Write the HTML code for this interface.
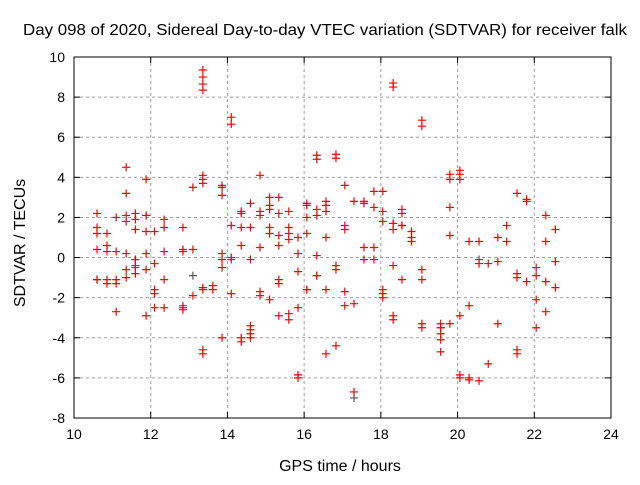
<!DOCTYPE html>
<html><head><meta charset="utf-8"><style>
body{margin:0;background:#fff;font-family:"Liberation Sans",sans-serif}
svg text{font-family:"Liberation Sans",sans-serif;font-size:14px;fill:#000}
svg text.ttl{font-size:16px}
</style></head><body>
<svg id="chart" width="640" height="480">
<text class="ttl" x="325" y="35" text-anchor="middle" textLength="604" lengthAdjust="spacingAndGlyphs">Day 098 of 2020, Sidereal Day-to-day VTEC variation (SDTVAR) for receiver falk</text>
<text class="ttl" x="340" y="471" text-anchor="middle">GPS time / hours</text>
<text class="ttl" transform="translate(25,243) rotate(-90)" text-anchor="middle">SDTVAR / TECUs</text>
<g id="grid"></g><g id="ticks"></g><g id="marks"></g>
<rect x="74" y="57" width="537" height="361" fill="none" stroke="#000" stroke-width="1"/>
</svg>
<script>
const xTicks=[10,12,14,16,18,20,22,24];
const yTicks=[-8,-6,-4,-2,0,2,4,6,8,10];
const redHours=[10.6,10.6,10.6,10.6,10.6,10.86,10.86,10.86,10.86,10.86,11.1,11.1,11.1,11.1,11.1,11.36,11.36,11.36,11.36,11.36,11.36,11.36,11.6,11.6,11.6,11.6,11.6,11.6,11.88,11.88,11.88,11.88,11.88,11.88,12.1,12.1,12.1,12.1,12.1,12.35,12.35,12.35,12.35,12.35,12.84,12.84,12.84,12.84,12.84,13.1,13.1,13.1,13.36,13.36,13.36,13.36,13.36,13.36,13.36,13.36,13.36,13.36,13.36,13.62,13.62,13.86,13.86,13.86,13.86,13.86,13.86,14.1,14.1,14.1,14.1,14.1,14.36,14.36,14.36,14.36,14.36,14.36,14.6,14.6,14.6,14.6,14.6,14.6,14.6,14.85,14.85,14.85,14.85,14.85,14.85,15.1,15.1,15.1,15.1,15.1,15.1,15.34,15.34,15.34,15.34,15.34,15.34,15.34,15.6,15.6,15.6,15.6,15.6,15.6,15.84,15.84,15.84,15.84,15.84,15.84,16.07,16.07,16.07,16.07,16.07,16.33,16.33,16.33,16.33,16.33,16.33,16.57,16.57,16.57,16.57,16.57,16.57,16.83,16.83,16.83,16.83,16.83,17.06,17.06,17.06,17.06,17.06,17.3,17.3,17.3,17.56,17.56,17.56,17.56,17.82,17.82,17.82,17.82,18.05,18.05,18.05,18.05,18.05,18.05,18.32,18.32,18.32,18.32,18.32,18.32,18.32,18.55,18.55,18.55,18.55,18.55,18.8,18.8,18.8,19.07,19.07,19.07,19.07,19.07,19.07,19.56,19.56,19.56,19.56,19.56,19.8,19.8,19.8,19.8,19.8,20.06,20.06,20.06,20.06,20.06,20.06,20.3,20.3,20.3,20.3,20.56,20.56,20.56,20.8,20.8,21.05,21.05,21.05,21.28,21.28,21.55,21.55,21.55,21.55,21.55,21.8,21.8,21.8,22.05,22.05,22.05,22.05,22.3,22.3,22.3,22.3,22.55,22.55,22.55];
const redValues=[2.2,1.5,1.2,0.4,-1.1,1.2,0.6,0.3,-1.1,-1.3,2.0,0.3,-1.1,-1.3,-2.7,4.5,3.2,2.1,1.8,0.2,-0.6,-1.0,2.2,1.9,1.4,-0.1,-0.4,-0.8,3.9,2.1,1.3,0.2,-0.6,-2.9,1.3,-0.3,-1.6,-1.8,-2.5,1.9,1.5,0.3,-1.1,-2.5,1.5,0.4,0.3,-2.5,-2.6,3.5,0.4,-1.9,9.35,9.0,8.65,8.35,4.1,3.9,3.7,-1.5,-1.6,-4.6,-4.8,-1.4,-1.6,3.5,3.1,0.2,-0.1,-0.5,-4.0,7.0,6.65,1.6,0.0,-1.8,2.3,2.2,1.5,0.6,-4.0,-4.2,2.7,1.5,-0.1,-3.4,-3.6,-3.8,-4.0,4.1,2.3,2.1,0.5,-1.7,-1.9,3.0,2.6,2.4,1.5,1.2,-2.1,3.0,2.2,1.1,0.6,-1.3,-1.1,-2.9,2.3,1.5,1.2,0.9,-2.8,-3.1,1.0,0.2,-0.7,-2.5,-5.85,-6.0,2.7,2.6,2.0,1.2,-1.6,5.1,4.9,2.4,2.1,0.1,-0.9,2.8,2.6,2.3,1.0,-1.6,-4.8,5.15,4.95,-0.4,-0.6,-4.4,3.6,1.6,1.4,-1.7,-2.4,2.8,-2.3,-6.7,2.8,2.7,0.5,-0.1,3.3,2.5,0.5,-0.1,3.3,2.3,1.8,-1.6,-1.8,-2.0,8.7,8.5,1.7,1.4,-0.4,-2.9,-3.1,2.4,2.2,1.6,1.6,-1.1,1.3,1.0,0.8,6.85,6.55,-0.6,-1.1,-3.3,-3.5,-3.3,-3.5,-3.8,-4.1,-4.7,4.15,3.9,2.5,1.1,-3.3,4.35,4.15,3.9,-2.9,-5.85,-6.0,0.8,-2.4,-6.0,-6.1,0.8,-0.3,-6.15,-0.3,-5.3,1.0,-0.2,-3.3,1.6,0.8,3.2,-0.8,-1.0,-4.6,-4.8,2.9,2.8,-1.2,-0.5,-0.9,-2.1,-3.5,2.1,0.8,-1.2,-2.7,1.4,-0.2,-1.5];
const grayHours=[10.6,11.6,11.6,11.88,12.84,13.1,13.86,14.1,16.07,16.33,17.3,18.32,19.56,20.56];
const grayValues=[-1.1,-0.1,-0.5,2.1,-2.4,-0.9,3.6,-0.1,-1.6,-0.9,-7.0,1.7,-3.5,-0.1];
const X0=74,X1=611,Y0=418,Y1=57;
const xs=v=>X0+(v-10)/14*(X1-X0);
const ys=v=>Y0-(v+8)/18*(Y0-Y1);
const NS="http://www.w3.org/2000/svg";
const grid=document.getElementById('grid'),ticks=document.getElementById('ticks'),marks=document.getElementById('marks');
function mk(tag,attrs,parent){const e=document.createElementNS(NS,tag);for(const k in attrs)e.setAttribute(k,attrs[k]);parent.appendChild(e);return e;}
xTicks.forEach(t=>{const x=xs(t);
 if(t>10&&t<24){const g=mk('line',{x1:x,x2:x,y1:Y1,y2:Y0,stroke:'#a0a0a0','stroke-dasharray':'3,3'},grid);
 
 }
 mk('line',{x1:x,x2:x,y1:Y0,y2:Y0-6,stroke:'#000'},ticks);mk('line',{x1:x,x2:x,y1:Y1,y2:Y1+6,stroke:'#000'},ticks);
 const l=mk('text',{x:x,y:Y0+21,'text-anchor':'middle'},ticks);l.textContent=t;
 
 });
yTicks.forEach(t=>{const y=ys(t);
 if(t>-8&&t<10){const g=mk('line',{x1:X0,x2:X1,y1:y,y2:y,stroke:'#a0a0a0','stroke-dasharray':'3,3'},grid);
 
 }
 mk('line',{x1:X0,x2:X0+6,y1:y,y2:y,stroke:'#000'},ticks);mk('line',{x1:X1,x2:X1-6,y1:y,y2:y,stroke:'#000'},ticks);
 const l=mk('text',{x:X0-9,y:y+5,'text-anchor':'end'},ticks);l.textContent=t;
 
 });
function plus(h,v,col,name){const x=xs(h),y=ys(v);
 const p=mk('path',{d:`M${x-4} ${y}H${x+4}M${x} ${y-4}V${y+4}`,stroke:col,'stroke-width':1.2,fill:'none'},marks);
 
 }
grayHours.forEach((h,i)=>plus(h,grayValues[i],'#555','gray-point'));
redHours.forEach((h,i)=>plus(h,redValues[i],'#ff0000','sdtvar-point'));
</script>
</body></html>
